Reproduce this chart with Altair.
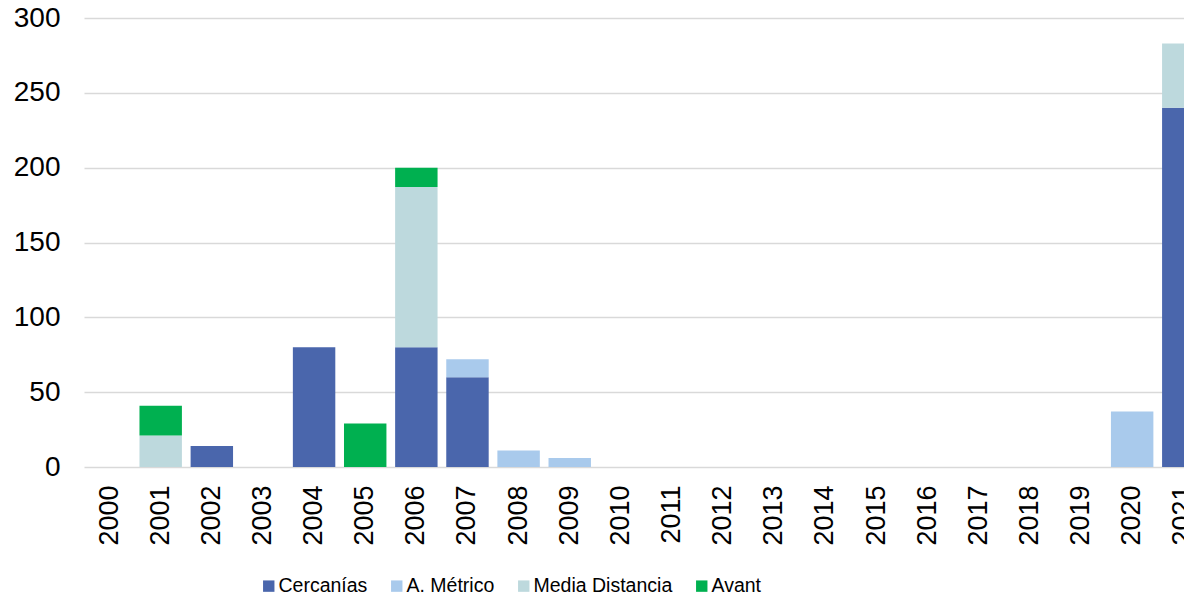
import altair as alt
import pandas as pd

years = [str(y) for y in range(2000, 2022)]
series = ["Cercanías", "A. Métrico", "Media Distancia", "Avant"]
colors = ["#4a66ac", "#a9caec", "#bdd9dd", "#00b050"]

cercanias = [0, 0, 14, 0, 80, 0, 80, 60, 0, 0, 0, 0, 0, 0, 0, 0, 0, 0, 0, 0, 0, 240]
a_metrico = [0, 0, 0, 0, 0, 0, 0, 12, 11, 6, 0, 0, 0, 0, 0, 0, 0, 0, 0, 0, 37, 0]
media_dist = [0, 21, 0, 0, 0, 0, 107, 0, 0, 0, 0, 0, 0, 0, 0, 0, 0, 0, 0, 0, 0, 43]
avant = [0, 20, 0, 0, 0, 29, 13, 0, 0, 0, 0, 0, 0, 0, 0, 0, 0, 0, 0, 0, 0, 0]

rows = []
for s_i, (name, vals) in enumerate(zip(series, [cercanias, a_metrico, media_dist, avant])):
    for y, v in zip(years, vals):
        rows.append({"year": y, "serie": name, "value": v, "ord": s_i})
df = pd.DataFrame(rows)

step = 51.13
plot_w = 1100

chart = alt.Chart(df).mark_bar().encode(
    x=alt.X("year:N", sort=years,
            scale=alt.Scale(domain=years, range=[0, step * len(years)], paddingInner=0.17,
                            paddingOuter=0.085, round=False),
            axis=alt.Axis(title=None, labelAngle=-90, labelPadding=18, ticks=False, domain=False,
                          labelFont="Liberation Sans", labelFontSize=27, labelColor="#000000")),
    y=alt.Y("value:Q", stack="zero",
            scale=alt.Scale(domain=[0, 300], nice=False),
            axis=alt.Axis(title=None, values=[0, 50, 100, 150, 200, 250, 300], ticks=False, domain=False,
                          labelPadding=24, labelFont="Liberation Sans", labelFontSize=28,
                          labelColor="#000000", gridColor="#d9d9d9", gridWidth=1.3)),
    color=alt.Color("serie:N", sort=series,
                    scale=alt.Scale(domain=series, range=colors),
                    legend=alt.Legend(title=None, orient="none", direction="horizontal",
                                      legendX=175, legendY=558,
                                      symbolType="square", symbolSize=130, symbolStrokeWidth=0,
                                      labelFont="Liberation Sans", labelFontSize=19.5,
                                      labelColor="#000000", labelOffset=0, columnPadding=19)),
    order=alt.Order("ord:Q", sort="ascending"),
).properties(
    width=plot_w, height=449,
    autosize=alt.AutoSizeParams(type="none"),
    padding={"left": 76, "top": 10, "right": 0, "bottom": 133},
).configure(background="#ffffff").configure_view(stroke=None, strokeWidth=0)

chart.save("out.html", embed_options={"renderer": "svg", "actions": False})
